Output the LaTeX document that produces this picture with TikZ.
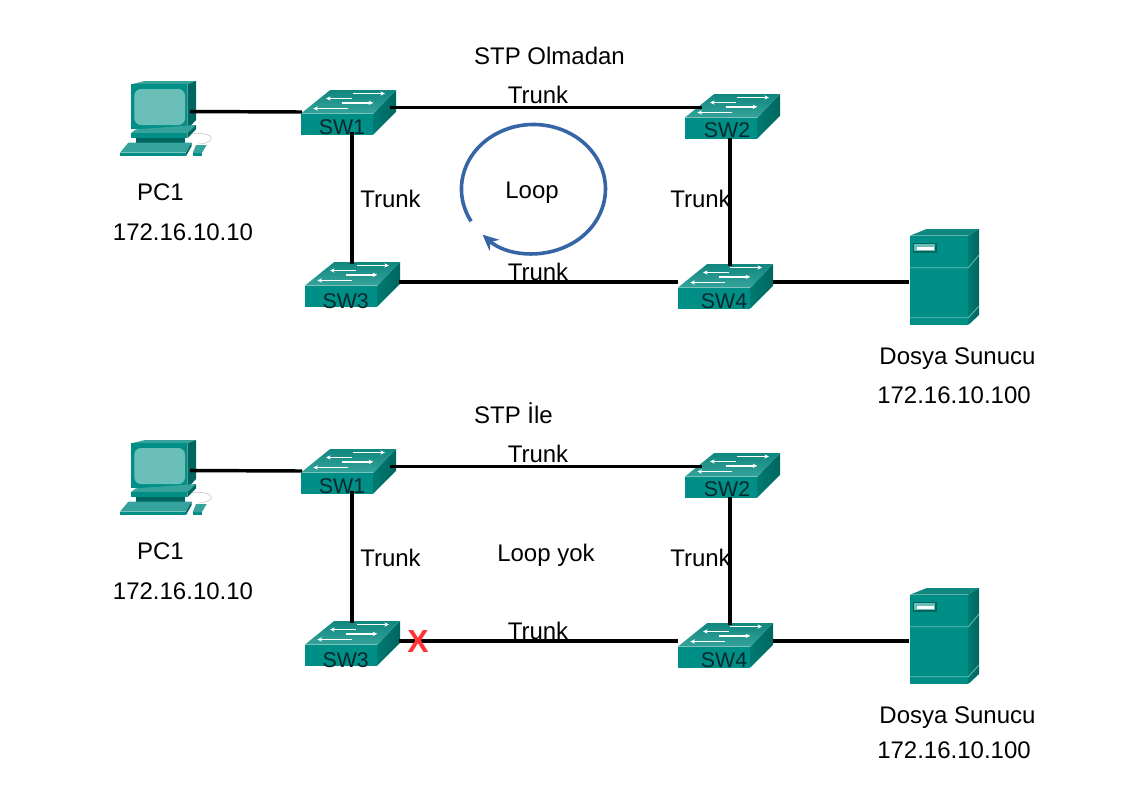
\documentclass[tikz,border=0pt]{standalone}
\usepackage{fontspec}
\setmainfont{Liberation Sans}
\usetikzlibrary{arrows.meta}
\definecolor{tealfront}{HTML}{008F87}
\definecolor{tealtop}{HTML}{35A39B}
\definecolor{tealmid}{HTML}{10877F}
\definecolor{tealdark}{HTML}{00665F}
\definecolor{tealside}{HTML}{007A72}
\definecolor{tealscreen}{HTML}{6BBFB9}
\definecolor{loopblue}{HTML}{3565A5}
\definecolor{labelink}{HTML}{07282C}
\definecolor{crossred}{HTML}{FF3333}
\tikzset{
  label18/.style={anchor=base,inner sep=0pt,font=\fontsize{18}{20}\selectfont,text=black},
  link/.style={draw=black,line width=2.6pt},
  swlabel/.style={inner sep=0pt,font=\fontsize{16}{17}\selectfont,text=labelink},
  swarrow/.style={draw=white,line width=1pt,-{Stealth[length=3.5pt,width=3.2pt]}},
  pics/switchicon/.style n args={3}{code={
    \begin{scope}[x=0.25pt,y=-0.25pt]
      \fill[tealfront] (0,0) rectangle (217,63);
      \shade[left color=tealside,right color=tealdark] (217,0) -- (285,-70) -- (285,-5) -- (217,63) -- cycle;
      \shade[bottom color=tealtop,top color=tealmid] (0,0) -- (87,-70) -- (285,-70) -- (217,0) -- cycle;
      \draw[swarrow] (157,-60) -- (252,-60);
      \draw[swarrow] (152,-45) -- (75,-45);
      \draw[swarrow] (122,-32) -- (217,-32);
      \draw[swarrow] (142,-15) -- (37,-15);
      \node[swlabel] (-label) at (#2,#3) {#1};
    \end{scope}
  }},
  pics/pcicon/.style={code={
    \begin{scope}[x=0.25pt,y=-0.25pt]
      \fill[tealtop] (63,43) -- (105,33) -- (258,33) -- (232,43) -- cycle;
      \fill[tealfront] (63,43) rectangle (232,178);
      \fill[tealdark] (232,43) -- (258,33) -- (258,150) -- (232,178) -- cycle;
      \fill[tealscreen,rounded corners=5pt] (73,57) rectangle (225,165);
      \fill[tealtop] (78,178) -- (258,165) -- (232,190) -- (62,190) -- cycle;
      \fill[tealfront] (62,190) rectangle (232,205);
      \fill[tealdark] (232,190) -- (258,165) -- (258,178) -- (232,205) -- cycle;
      \fill[tealdark] (78,205) rectangle (225,218);
      \fill[tealtop] (55,218) -- (245,218) -- (228,248) -- (30,248) -- cycle;
      \fill[tealfront] (30,248) rectangle (228,258);
      \fill[tealdark] (228,248) -- (245,218) -- (245,228) -- (228,258) -- cycle;
      \fill[tealtop] (258,225) -- (290,225) -- (275,250) -- (248,250) -- cycle;
      \fill[tealfront] (248,250) rectangle (275,258);
      \draw[black!25,line width=0.4pt] (245,190) .. controls (320,185) and (320,220) .. (265,222);
    \end{scope}
  }},
  pics/servericon/.style={code={
    \begin{scope}[x=0.25pt,y=-0.25pt]
      \fill[tealmid] (60,47) -- (110,27) -- (267,27) -- (235,47) -- cycle;
      \fill[tealfront] (60,47) rectangle (235,315);
      \shade[left color=tealside,right color=tealdark] (235,47) -- (267,27) -- (267,285) -- (235,315) -- cycle;
      \draw[tealscreen,line width=0.6pt] (60,143) -- (235,143) -- (267,105);
      \draw[tealscreen,line width=0.6pt] (60,293) -- (235,293) -- (267,258);
      \fill[tealdark] (70,70) rectangle (142,98);
      \fill[tealscreen] (72,72) rectangle (136,94);
      \fill[white] (80,80) rectangle (132,90);
    \end{scope}
  }}
}
\begin{document}
\begin{tikzpicture}[x=0.75pt,y=-0.75pt]
\useasboundingbox (0,0) rectangle (1123,794);
\foreach \d/\o in {a/0,b/359}{
  \begin{scope}[shift={(0,\o)}]
    \pic (\d-pc) at (110,70) {pcicon};
    \pic (\d-srv) at (890,220) {servericon};
    \pic (\d-sw1) at (301,113.5) {switchicon={SW1}{123}{40}};
    \pic (\d-sw2) at (685,117.5) {switchicon={SW2}{126}{39}};
    \pic (\d-sw3) at (305,285.5) {switchicon={SW3}{122}{46}};
    \pic (\d-sw4) at (678,287.5) {switchicon={SW4}{138}{40}};
    \coordinate (\d-pcport) at (190,111.5);
    \coordinate (\d-sw1w) at (302,112);
    \coordinate (\d-sw1e) at (390,107.7);
    \coordinate (\d-sw1s) at (352,132);
    \coordinate (\d-sw2w) at (702,107.7);
    \coordinate (\d-sw2s) at (730,138);
    \coordinate (\d-sw3n) at (352,264);
    \coordinate (\d-sw3e) at (399,282);
    \coordinate (\d-sw4w) at (678,282);
    \coordinate (\d-sw4n) at (730,266);
    \coordinate (\d-sw4e) at (773,282);
    \coordinate (\d-srvport) at (909,282);
    \draw[link] (\d-pcport) -- (\d-sw1w);
    \draw[link] (\d-sw1e) -- (\d-sw2w);
    \draw[link] (\d-sw1s) -- (\d-sw3n);
    \draw[link] (\d-sw2s) -- (\d-sw4n);
    \draw[link] (\d-sw3e) -- (\d-sw4w);
    \draw[link] (\d-sw4e) -- (\d-srvport);
    \node[label18] (\d-t1) at (538,103) {Trunk};
    \node[label18] (\d-t2) at (390.5,207) {Trunk};
    \node[label18] (\d-t3) at (700.5,207) {Trunk};
    \node[label18] (\d-t4) at (538,280) {Trunk};
    \node[label18] (\d-pcname) at (160.5,200) {PC1};
    \node[label18] (\d-pcip) at (183,240) {172.16.10.10};
    \node[label18] (\d-srvname) at (957.5,364) {Dosya Sunucu};
  \end{scope}
}
\node[label18] (a-srvip) at (954,403) {172.16.10.100};
\node[label18] (b-srvip) at (954,758) {172.16.10.100};
\node[label18] (a-title) at (549.5,64) {STP Olmadan};
\node[label18] (b-title) at (513.5,423) {STP İle};
\node[label18] (a-loop) at (532,198) {Loop};
\node[label18] (b-loop) at (546,561) {Loop yok};
\draw[draw=loopblue,line width=2.7pt,-{Stealth[length=12pt,width=11pt]}]
  (471.1,221.25) arc[start angle=150,end angle=495,x radius=72,y radius=64.5];
\node[inner sep=0pt,font=\fontsize{24}{26}\selectfont\bfseries,text=crossred] (b-x) at (418,641) {X};
\end{tikzpicture}
\end{document}
